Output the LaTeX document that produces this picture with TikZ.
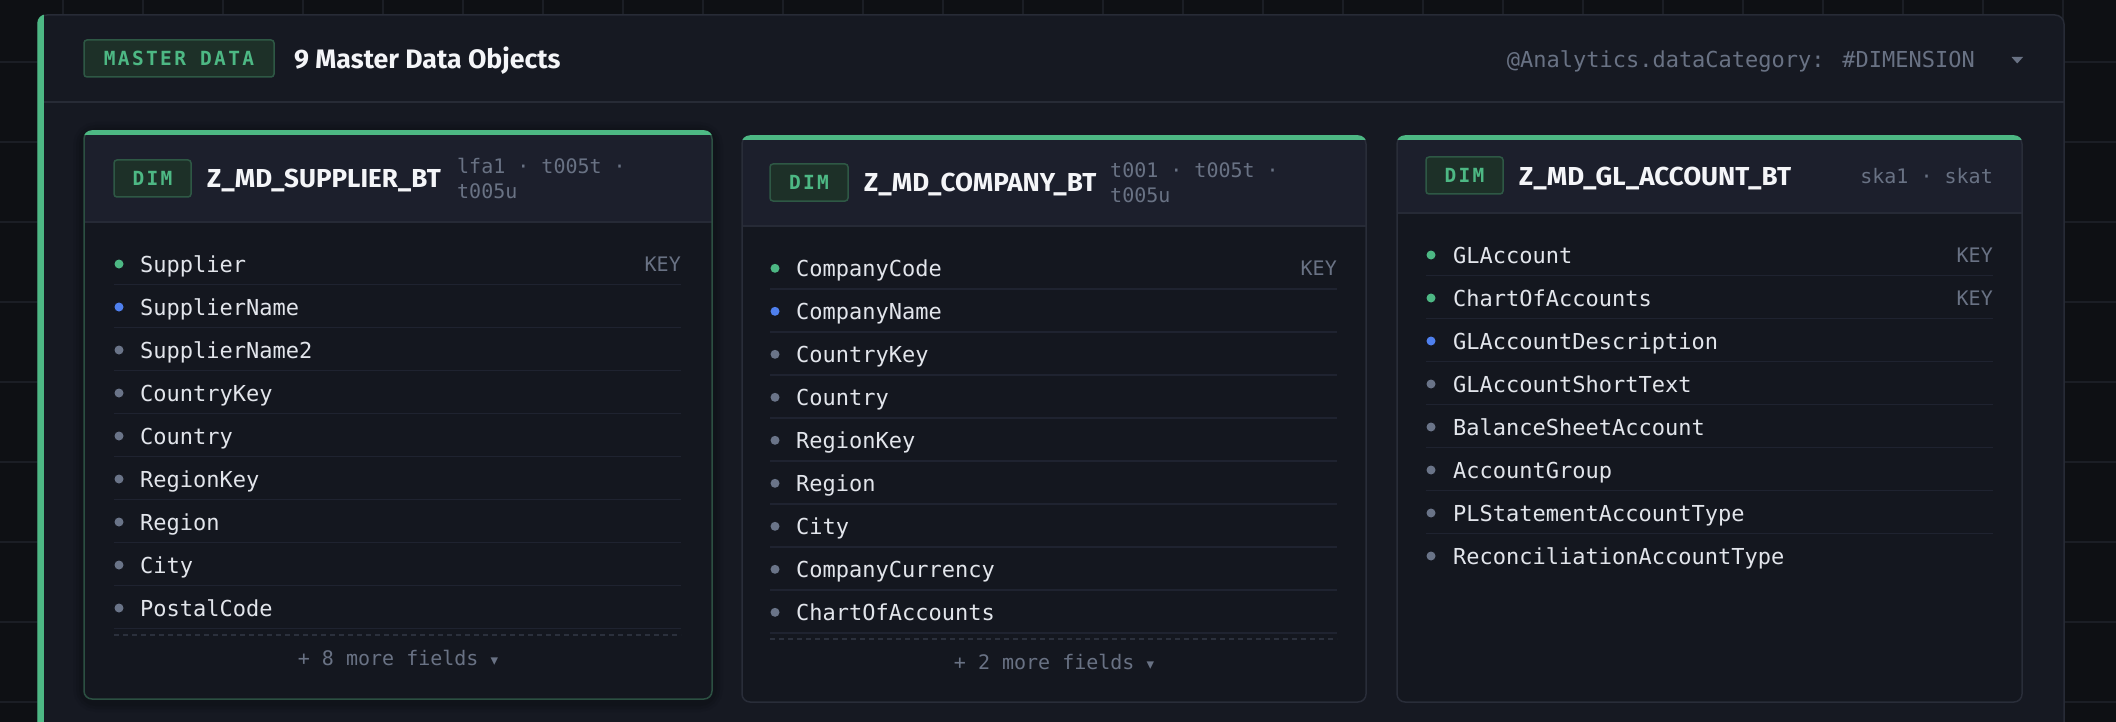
\documentclass[tikz,border=0pt]{standalone}
\usepackage{fontspec}
\setmainfont{Fira Sans}
\newfontfamily\sansfam{Fira Sans}
\newfontfamily\monofam{DejaVu Sans Mono}
\newfontfamily\badgefam{DejaVu Sans Mono}[LetterSpace=12]
\newfontfamily\symfam{DejaVu Sans}
\definecolor{pagebg}{HTML}{0E1014}
\definecolor{gridc}{HTML}{1B1E25}
\definecolor{panelbg}{HTML}{161922}
\definecolor{panelbd}{HTML}{272B36}
\definecolor{cardbg}{HTML}{14171F}
\definecolor{cardhd}{HTML}{1C1F2C}
\definecolor{cardbd}{HTML}{292D39}
\definecolor{hdsep}{HTML}{262A36}
\definecolor{rowsep}{HTML}{1F2330}
\definecolor{dashc}{HTML}{2B303C}
\definecolor{accent}{HTML}{4DB884}
\definecolor{badgebg}{HTML}{1D3028}
\definecolor{badgebd}{HTML}{2E5845}
\definecolor{dblue}{HTML}{4F80EE}
\definecolor{dgray}{HTML}{6A7488}
\definecolor{txt}{HTML}{E2E5EB}
\definecolor{muted}{HTML}{697284}
\definecolor{whitet}{HTML}{F4F5F8}
\definecolor{selbd}{HTML}{2C5042}
\newcommand\fieldf{\monofam\fontsize{22}{26}\selectfont}
\newcommand\keyf{\monofam\fontsize{20}{24}\selectfont}
\newcommand\subf{\monofam\fontsize{20}{24}\selectfont}
\newcommand\ctitlef{\sansfam\bfseries\fontsize{26}{30}\selectfont}
\newcommand\badgef{\badgefam\bfseries\fontsize{19.5}{22}\selectfont}
\newcommand\mtitlef{\sansfam\bfseries\fontsize{26.7}{32}\selectfont}
\newcommand\annof{\monofam\fontsize{22}{26}\selectfont}
\newcommand\tri{{\symfam\fontsize{15}{15}\selectfont ▾}}
% card background: x1 y1 x2 y2 headerY bordercolor
\newcommand\cardbox[6]{%
  \fill[cardbg, rounded corners=8pt] (#1,#2) rectangle (#3,#4);
  \begin{scope}
    \clip[rounded corners=8pt] (#1,#2) rectangle (#3,#4);
    \fill[cardhd] (#1,#2) rectangle (#3,#5);
  \end{scope}
  \draw[hdsep, line width=2pt] (#1,#5) -- (#3,#5);
  \draw[#6, line width=1.5pt, rounded corners=8pt] (#1,#2) rectangle (#3,#4);
  \begin{scope}
    \clip[rounded corners=8.75pt] (#1-0.75,#2-0.75) rectangle (#3+0.75,#4+0.75);
    \fill[accent] (#1-1,#2-1) rectangle (#3+1,#2+4);
  \end{scope}
}
\begin{document}
\begin{tikzpicture}[x=1pt,y=-1pt,
  field/.style={font=\fieldf, text=txt, inner sep=0pt, anchor=base west},
  keytag/.style={font=\keyf, text=muted, inner sep=0pt, anchor=base east},
  subt/.style={font=\subf, text=muted, inner sep=0pt, anchor=base west},
  ctitle/.style={font=\ctitlef, text=whitet, inner sep=0pt, anchor=base west},
  badge/.style={draw=badgebd, fill=badgebg, line width=1.5pt, rounded corners=3pt, text=accent, font=\badgef, inner sep=0pt},
  more/.style={font=\subf, text=muted, inner sep=0pt, anchor=base},
  rowline/.style={rowsep, line width=1.5pt},
  dashline/.style={dashc, line width=1.5pt, dash pattern=on 5pt off 4pt},
]
\useasboundingbox (0,0) rectangle (2116,722);
\begin{scope}
\clip (0,0) rectangle (2116,722);
\fill[pagebg] (0,0) rectangle (2116,722);
\foreach \x in {63,143,...,2110} \draw[gridc, line width=1.5pt] (\x,0) -- (\x,722);
\foreach \y in {62,142,...,720} \draw[gridc, line width=1.5pt] (0,\y) -- (2116,\y);
% panel
\path[fill=panelbg, draw=panelbd, line width=1.5pt, rounded corners=9pt] (38,760) -- (38,15) -- (2064,15) -- (2064,760);
\begin{scope}
  \clip[rounded corners=9pt] (37.25,14.25) rectangle (2065,780);
  \fill[accent] (36,10) rectangle (44,780);
\end{scope}
\draw[panelbd, line width=2pt] (44,102) -- (2064,102);
% header
\node[badge, minimum width=190pt, minimum height=37pt] (mdbadge) at (179,58.5) {MASTER DATA};
\node[font=\mtitlef, text=whitet, inner sep=0pt, anchor=base west] (mdtitle) at (294,69) {9 Master Data Objects};
\node[font=\annof, text=muted, inner sep=0pt, anchor=base east] (anno) at (1975,68) {@Analytics.dataCategory: \#DIMENSION};
\fill[muted] (2011.5,57) -- (2023,57) -- (2017.25,63.5) -- cycle;

% ---------- card 1 (selected)
\foreach \w/\o in {22/0.05,16/0.07,10/0.09} \draw[black, opacity=\o, line width=\w pt, rounded corners=12pt] (84,133) rectangle (712,701);
\cardbox{84}{131}{712}{699}{222}{selbd}
\node[badge, minimum width=77pt, minimum height=37pt] (c1badge) at (152.5,178.5) {DIM};
\node[ctitle] (c1title) at (207,187) {Z\_MD\_SUPPLIER\_BT};
\node[subt] (c1sub1) at (457,174) {lfa1 · t005t ·};
\node[subt] (c1sub2) at (457,198) {t005u};
\foreach [count=\i from 0] \fname/\dc/\k in {Supplier/accent/1,SupplierName/dblue/0,SupplierName2/dgray/0,CountryKey/dgray/0,Country/dgray/0,RegionKey/dgray/0,Region/dgray/0,City/dgray/0,PostalCode/dgray/0}{
  \pgfmathsetmacro\yc{264+43*\i}
  \fill[\dc] (119,\yc) circle[radius=4.5pt];
  \node[field] (c1f\i) at (140,\yc+8) {\fname};
  \ifnum\k=1 \node[keytag] (c1k\i) at (681,\yc+7.5) {KEY};\fi
  \draw[rowline] (114,\yc+20.5) -- (681,\yc+20.5);
}
\draw[dashline] (114,635) -- (681,635);
\node[more] (c1more) at (398,665) {+ 8 more fields \tri};

% ---------- card 2
\cardbox{742}{136}{1366}{702}{226}{cardbd}
\node[badge, minimum width=78pt, minimum height=37pt] (c2badge) at (809,182.5) {DIM};
\node[ctitle] (c2title) at (864,191.5) {Z\_MD\_COMPANY\_BT};
\node[subt] (c2sub1) at (1110,178) {t001 · t005t ·};
\node[subt] (c2sub2) at (1110,202) {t005u};
\foreach [count=\i from 0] \fname/\dc/\k in {CompanyCode/accent/1,CompanyName/dblue/0,CountryKey/dgray/0,Country/dgray/0,RegionKey/dgray/0,Region/dgray/0,City/dgray/0,CompanyCurrency/dgray/0,ChartOfAccounts/dgray/0}{
  \pgfmathsetmacro\yc{268.3+43*\i}
  \fill[\dc] (775,\yc) circle[radius=4.5pt];
  \node[field] (c2f\i) at (796,\yc+8) {\fname};
  \ifnum\k=1 \node[keytag] (c2k\i) at (1337,\yc+7.5) {KEY};\fi
  \draw[rowline] (770,\yc+20.5) -- (1337,\yc+20.5);
}
\draw[dashline] (770,639) -- (1337,639);
\node[more] (c2more) at (1054,669) {+ 2 more fields \tri};

% ---------- card 3
\cardbox{1397}{136}{2022}{702}{213}{cardbd}
\node[badge, minimum width=77pt, minimum height=37pt] (c3badge) at (1464.5,175.5) {DIM};
\node[ctitle] (c3title) at (1519,185.5) {Z\_MD\_GL\_ACCOUNT\_BT};
\node[subt, anchor=base east] (c3sub) at (1993,184) {ska1 · skat};
\foreach [count=\i from 0] \fname/\dc/\k in {GLAccount/accent/1,ChartOfAccounts/accent/1,GLAccountDescription/dblue/0,GLAccountShortText/dgray/0,BalanceSheetAccount/dgray/0,AccountGroup/dgray/0,PLStatementAccountType/dgray/0,ReconciliationAccountType/dgray/2}{
  \pgfmathsetmacro\yc{255+43*\i}
  \fill[\dc] (1431,\yc) circle[radius=4.5pt];
  \node[field] (c3f\i) at (1453,\yc+8) {\fname};
  \ifnum\k=1 \node[keytag] (c3k\i) at (1993,\yc+7.5) {KEY};\fi
  \ifnum\k<2 \draw[rowline] (1426,\yc+20.5) -- (1993,\yc+20.5);\fi
}
\end{scope}
\end{tikzpicture}
\end{document}
